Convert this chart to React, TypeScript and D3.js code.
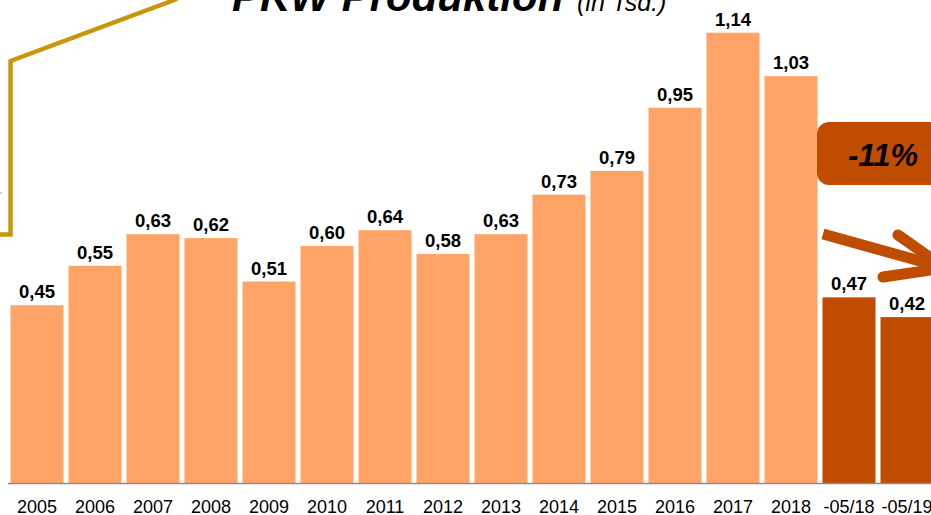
import React from "react";
import * as d3 from "d3";

const categories = ["2005","2006","2007","2008","2009","2010","2011","2012","2013","2014","2015","2016","2017","2018","-05/18","-05/19"];
const values = [0.45,0.55,0.63,0.62,0.51,0.60,0.64,0.58,0.63,0.73,0.79,0.95,1.14,1.03,0.47,0.42];
const highlighted = ["-05/18","-05/19"];
const titleMain = "PKW Produktion";
const titleSub = "(in Tsd.)";
const changeLabel = "-11%";

const W = 931, H = 515;
const LIGHT = "#FFA466";
const DARK = "#C04C00";
const GOLD = "#C8960A";

export default function App() {
  const x = d3.scaleBand<string>().domain(categories).range([8, 936]).paddingInner(5 / 58).paddingOuter(2.5 / 58);
  const y = d3.scaleLinear().domain([0, 1.2]).range([483, 9]);
  const fmt = (v: number) => d3.format(".2f")(v).replace(".", ",");
  const font = "Liberation Sans, Arial, sans-serif";

  const arrowPath = d3.line()([[823, 234], [945, 268]]);
  const headPath = d3.line()([[898, 235], [945, 268], [883, 277]]);

  return (
    <svg width={W} height={H} style={{ position: "absolute", left: 0, top: 0, background: "#fff" }} fontFamily={font}>
      <rect width={W} height={H} fill="#fff" />
      {/* gold callout line */}
      <polyline points="177,-1 10.5,61 10.5,234.5 -2,234.5" fill="none" stroke={GOLD} strokeWidth={4.5} />
      <line x1={0} x2={2} y1={193} y2={193} stroke="#999" strokeWidth={1} />
      {/* title */}
      <text x={232} y={11} fontSize={42} fontWeight="bold" fontStyle="italic" fill="#000">{titleMain}</text>
      <text x={577} y={11} fontSize={25} fontStyle="italic" fill="#000">{titleSub}</text>
      {/* bars */}
      {categories.map((c, i) => (
        <g key={c}>
          <rect x={x(c)} y={y(values[i])} width={x.bandwidth()} height={y(0) - y(values[i])}
            fill={highlighted.includes(c) ? DARK : LIGHT} />
          <text x={(x(c) as number) + x.bandwidth() / 2} y={y(values[i]) - 7} textAnchor="middle"
            fontSize={18.5} fontWeight="bold" fill="#000">{fmt(values[i])}</text>
          <text x={(x(c) as number) + x.bandwidth() / 2} y={512.5} textAnchor="middle"
            fontSize={18} fill="#000">{c}</text>
        </g>
      ))}
      {/* axis */}
      <line x1={8} x2={W} y1={483.5} y2={483.5} stroke="#8c8c8c" strokeWidth={1.3} />
      {/* change box */}
      <rect x={817} y={122} width={160} height={63} rx={12} fill={DARK} />
      <text x={848} y={166} fontSize={31} fontWeight="bold" fontStyle="italic" fill="#000">{changeLabel}</text>
      {/* arrow */}
      <path d={arrowPath as string} stroke={DARK} strokeWidth={11} fill="none" />
      <path d={headPath as string} stroke={DARK} strokeWidth={11} fill="none" strokeLinecap="round" strokeLinejoin="round" />
    </svg>
  );
}
